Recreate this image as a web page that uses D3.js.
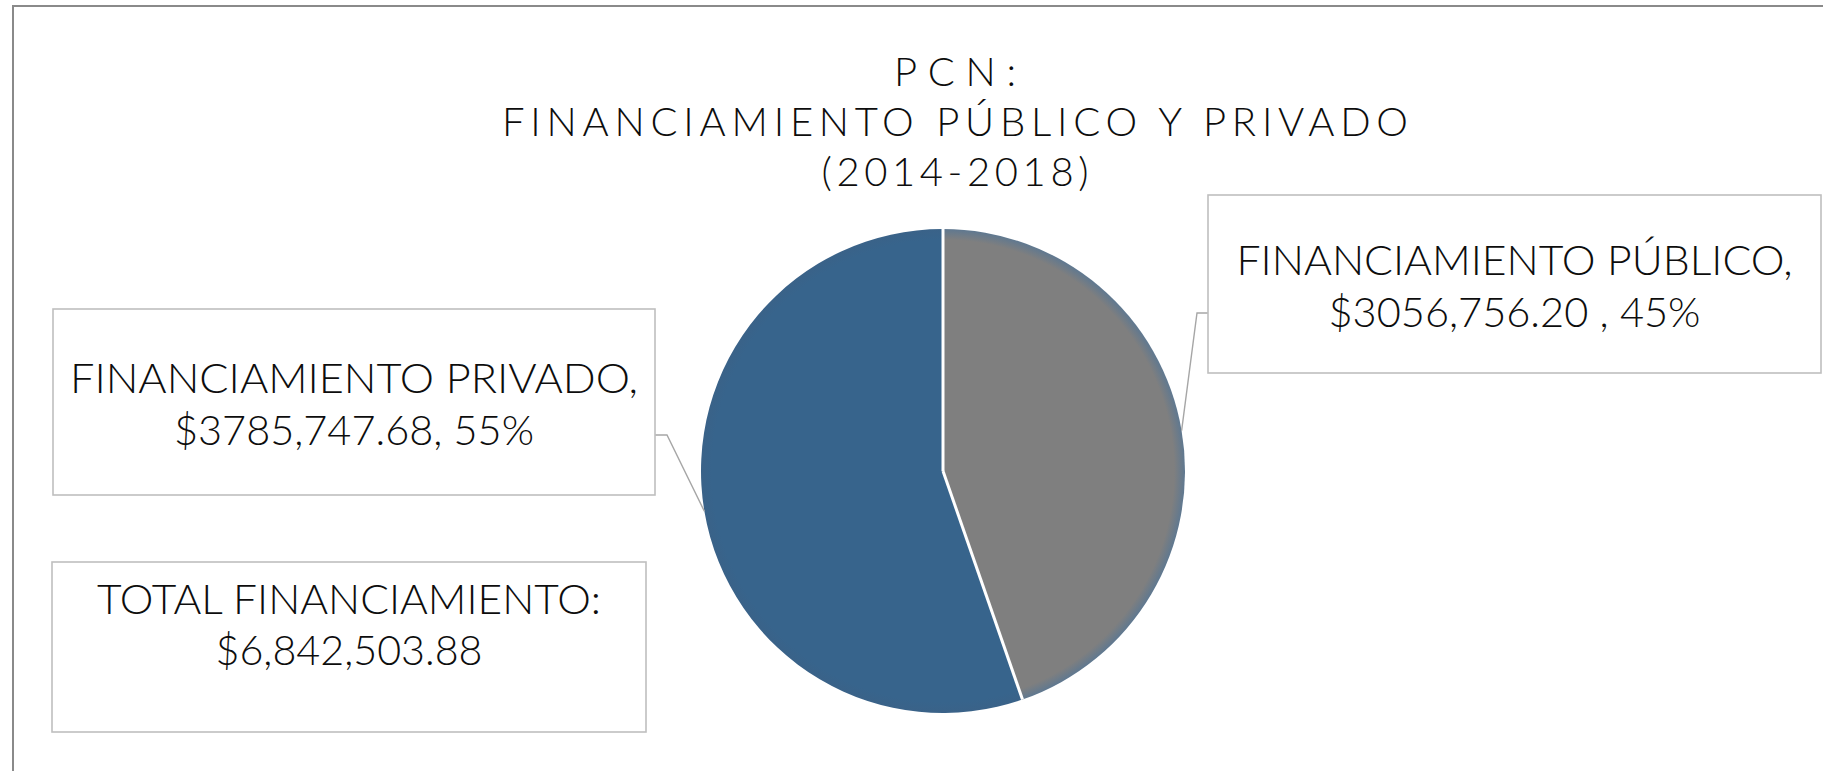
<!DOCTYPE html>
<html lang="es">
  <head>
    <meta charset="UTF-8" />
    <title>PCN financiamiento</title>
    <style>
      body { margin: 0; background: #fff; }
      text { font-family: Lato, "Open Sans", sans-serif; font-weight: 300; fill: #0d0d0d; }
      .box { fill: #fff; stroke: #bfbfbf; stroke-width: 1.6px; }
      .leader { fill: none; stroke: #a6a6a6; stroke-width: 1.4px; }
    </style>
  </head>
  <body>
    <svg></svg>
    <script src="https://cdnjs.cloudflare.com/ajax/libs/d3/7.8.5/d3.min.js"></script>
    <script>
      // data
      const titleLines = ["PCN:", "FINANCIAMIENTO PÚBLICO Y PRIVADO", "(2014-2018)"];
      const categories = ["FINANCIAMIENTO PÚBLICO", "FINANCIAMIENTO PRIVADO"];
      const amounts = [3056756.20, 3785747.68];
      const amountText = ["$3056,756.20 ", "$3785,747.68"];
      const colors = ["#7f7f7f", "#37648c"];
      const totalCaption = "TOTAL FINANCIAMIENTO:";

      const width = 1823, height = 771;
      const cx = 943, cy = 471, radius = 242;

      // label box layout (public, private, total)
      const boxes = [
        { x: 1208, y: 195, w: 613, h: 178, attachY: 313, base: [80, 132], fit: [556, 372] },
        { x: 53, y: 309, w: 602, h: 186, attachY: 435, base: [84, 136], fit: [568, 360] },
        { x: 52, y: 562, w: 594, h: 170, base: [52, 103], fit: [504, 267] }
      ];

      const svg = d3.select("svg").attr("width", width).attr("height", height);

      // outer frame (only top and left edges visible)
      svg.append("path")
        .attr("d", "M13," + height + "V6H" + width)
        .attr("fill", "none")
        .attr("stroke", "#8a8a8a")
        .attr("stroke-width", 2);

      // title
      const titleFit = [122, 906, 267];
      svg.append("g").selectAll("text")
        .data(titleLines)
        .join("text")
        .attr("x", 955)
        .attr("y", (d, i) => 86 + i * 50)
        .attr("text-anchor", "middle")
        .attr("font-size", 40)
        .attr("textLength", (d, i) => titleFit[i])
        .attr("lengthAdjust", "spacing")
        .text(d => d);

      // soft rim on the slices
      const defs = svg.append("defs");
      colors.forEach((c, i) => {
        const g = defs.append("radialGradient")
          .attr("id", "rim" + i)
          .attr("gradientUnits", "userSpaceOnUse")
          .attr("cx", 0).attr("cy", 0).attr("r", radius);
        g.append("stop").attr("offset", 0.955).attr("stop-color", c);
        g.append("stop").attr("offset", 1).attr("stop-color", i === 0 ? "#5f7890" : "#3a6288");
      });

      const total = d3.sum(amounts);
      const pct = d3.format(".0%");
      const money = d3.format("$,.2f");

      const pie = d3.pie().sort(null).value(d => d);
      const arcs = pie(amounts);
      const arc = d3.arc().innerRadius(0).outerRadius(radius);
      const rimArc = d3.arc().innerRadius(radius).outerRadius(radius);

      const g = svg.append("g").attr("transform", `translate(${cx},${cy})`);
      g.selectAll("path.slice")
        .data(arcs)
        .join("path")
        .attr("class", "slice")
        .attr("d", arc)
        .attr("fill", (d, i) => `url(#rim${i})`);

      // white separators between slices
      g.selectAll("line.sep")
        .data(arcs)
        .join("line")
        .attr("class", "sep")
        .attr("x1", 0).attr("y1", 0)
        .attr("x2", d => radius * Math.sin(d.startAngle))
        .attr("y2", d => -radius * Math.cos(d.startAngle))
        .attr("stroke", "#fff")
        .attr("stroke-width", 3);

      // leader lines from slice rim to label boxes
      arcs.forEach((d, i) => {
        const b = boxes[i];
        const p = rimArc.centroid(d);
        const px = cx + p[0], py = cy + p[1];
        const edge = i === 0 ? b.x : b.x + b.w;
        const elbow = i === 0 ? edge - 11 : edge + 12;
        svg.append("path")
          .attr("class", "leader")
          .attr("d", d3.line()([[px, py], [elbow, b.attachY], [edge, b.attachY]]));
      });

      // label boxes
      const labels = [
        [categories[0] + ",", amountText[0] + ", " + pct(amounts[0] / total)],
        [categories[1] + ",", amountText[1] + ", " + pct(amounts[1] / total)],
        [totalCaption, money(total)]
      ];

      boxes.forEach((b, i) => {
        const bg = svg.append("g");
        bg.append("rect")
          .attr("class", "box")
          .attr("x", b.x).attr("y", b.y)
          .attr("width", b.w).attr("height", b.h);
        bg.selectAll("text")
          .data(labels[i])
          .join("text")
          .attr("x", b.x + b.w / 2)
          .attr("y", (d, j) => b.y + b.base[j])
          .attr("text-anchor", "middle")
          .attr("font-size", 42)
          .attr("textLength", (d, j) => b.fit[j])
          .attr("lengthAdjust", "spacingAndGlyphs")
          .text(d => d);
      });
    </script>
  </body>
</html>
